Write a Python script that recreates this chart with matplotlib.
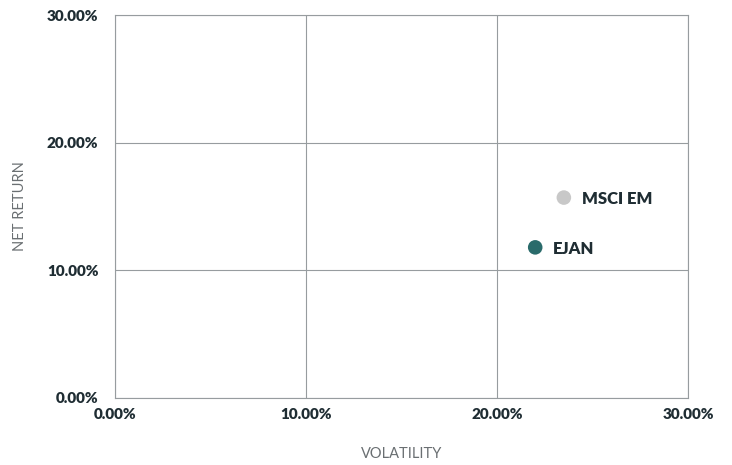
import matplotlib.pyplot as plt
from matplotlib.ticker import FuncFormatter

# data
names = ['MSCI EM', 'EJAN']
volatility = [23.5, 22.0]
net_return = [15.7, 11.8]
colors = ['#c8c8c8', '#2a6b6b']

ticks = [0, 10, 20, 30]

fig = plt.figure(figsize=(7.32, 4.65), dpi=100)
ax = fig.add_axes([0.1571, 0.1441, 0.7828, 0.8236])

ax.scatter(volatility, net_return, s=110, c=colors, zorder=3, linewidths=0)
for n, x, y in zip(names, volatility, net_return):
    ax.annotate(n, (x, y), xytext=(13, -1), textcoords='offset points',
                va='center', ha='left', fontsize=12, fontweight='heavy',
                color='#1f2d33', family=['Lato', 'DejaVu Sans'])

ax.set_xlim(0, 30)
ax.set_ylim(0, 30)
ax.set_xticks(ticks)
ax.set_yticks(ticks)
fmt = FuncFormatter(lambda v, p: f'{v:.2f}%')
ax.xaxis.set_major_formatter(fmt)
ax.yaxis.set_major_formatter(fmt)
ax.grid(True, color='#979c9f', linewidth=0.8)
ax.set_axisbelow(True)
for s in ax.spines.values():
    s.set_color('#979c9f')
    s.set_linewidth(0.8)
ax.tick_params(length=0, labelsize=11, labelcolor='#1f2d33')
ax.tick_params(axis='x', pad=7)
ax.tick_params(axis='y', pad=12)
for lbl in ax.get_xticklabels() + ax.get_yticklabels():
    lbl.set_fontweight('heavy')
    lbl.set_family(['Lato', 'DejaVu Sans'])

ax.set_xlabel('VOLATILITY', fontsize=10.5, color='#6a6f72', fontweight='normal',
              family=['Lato', 'DejaVu Sans'], labelpad=19)
ax.set_ylabel('NET RETURN', fontsize=10.5, color='#6a6f72', fontweight='normal',
              family=['Lato', 'DejaVu Sans'], labelpad=14)

fig.savefig('out.png', dpi=100)
